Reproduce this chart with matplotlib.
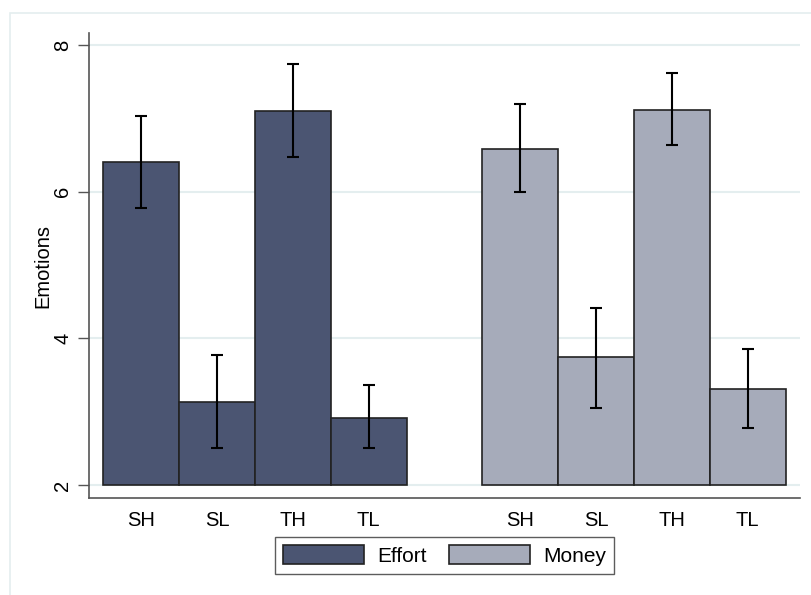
import numpy as np
import matplotlib.pyplot as plt
from matplotlib.patches import Rectangle

# data
conditions = ["SH", "SL", "TH", "TL"]
groups = ["Effort", "Money"]
effort_mean = [6.40, 3.13, 7.10, 2.92]
effort_hi = [7.03, 3.77, 7.74, 3.36]
effort_lo = [5.78, 2.50, 6.47, 2.50]
money_mean = [6.58, 3.74, 7.12, 3.31]
money_hi = [7.20, 4.42, 7.62, 3.86]
money_lo = [6.00, 3.05, 6.63, 2.78]

colors = ["#4b5572", "#a6abba"]

plt.rcParams["font.family"] = ["Liberation Sans", "DejaVu Sans"]

fig = plt.figure(figsize=(8.11, 5.95), dpi=100)
ax = fig.add_axes([89 / 811, 1 - 498 / 595, (800 - 89) / 811, (498 - 33) / 595])

# outer light frame (Stata style)
fig.patches.append(Rectangle((10 / 811, -0.1), 1.2, 1 - 13 / 595 + 0.1,
                             transform=fig.transFigure, fill=False,
                             edgecolor="#e4eeef", lw=1.2, zorder=0))

base = 2
positions = [np.arange(1, 5), np.arange(6, 10)]
means = [effort_mean, money_mean]
his = [effort_hi, money_hi]
los = [effort_lo, money_lo]

for pos, m, hi, lo, c, g in zip(positions, means, his, los, colors, groups):
    m = np.array(m)
    ax.bar(pos, m - base, bottom=base, width=1.0, color=c, edgecolor="#222222",
           linewidth=1.2, label=g, zorder=2)
    err = [m - np.array(lo), np.array(hi) - m]
    ax.errorbar(pos, m, yerr=err, fmt="none", ecolor="black", elinewidth=1.5,
                capsize=4, capthick=1.5, zorder=3)

ax.set_xlim(0.5 - 0.19, 9.5 + 0.19)
ax.set_ylim(2 - 13 / 73.33, 8 + 12 / 73.33)
ax.set_yticks([2, 4, 6, 8])
ax.set_yticklabels(["2", "4", "6", "8"], rotation=90, va="center")
ax.set_xticks(np.concatenate(positions))
ax.set_xticklabels(conditions * 2)
ax.tick_params(axis="x", length=0, pad=9, labelsize=14.5)
ax.tick_params(axis="y", length=8, width=1, color="#555555", pad=4, labelsize=14.5)
ax.set_ylabel("Emotions", fontsize=14.5, labelpad=1)

ax.grid(axis="y", color="#e4eeef", lw=1.5, zorder=0)
ax.set_axisbelow(True)
for s in ["top", "right"]:
    ax.spines[s].set_visible(False)
for s in ["left", "bottom"]:
    ax.spines[s].set_color("#555555")
    ax.spines[s].set_linewidth(1.2)

leg = ax.legend(loc="center", bbox_to_anchor=(444.5 / 811, 1 - 555.5 / 595),
                bbox_transform=fig.transFigure, ncol=2, fontsize=15,
                frameon=True, fancybox=False, edgecolor="#333333",
                handlelength=3.9, handleheight=1.0, columnspacing=1.1,
                borderpad=0.4, handletextpad=0.6)
leg.get_frame().set_linewidth(1.0)

fig.savefig("out.png", dpi=100)
